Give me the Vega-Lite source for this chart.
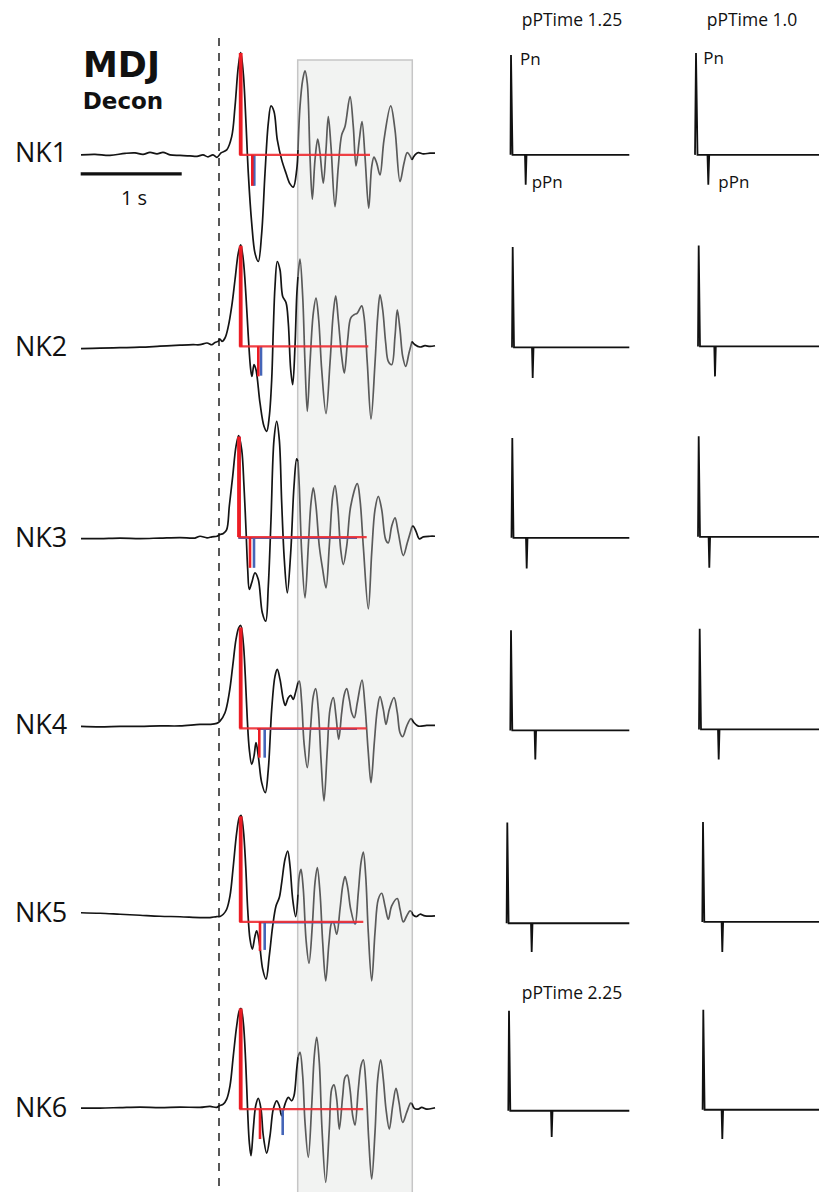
{
"$schema": "https://vega.github.io/schema/vega-lite/v6.json",
"width": 819, "height": 1193,
"autosize": {"type": "fit", "contains": "padding"},
"padding": 0,
"background": "white",
"config": {"view": {"stroke": null}},
"datasets": {
"frame": [
{"kind":"box","t":0.787,"t2":1.933,"v":-0.6,"v2":-12.0},
{"kind":"onset","t":0,"t2":0,"v":-0.38,"v2":-11.93},
{"kind":"scale","t":-1.383,"t2":-0.373,"v":-1.74,"v2":-1.74}
],
"wave": [
{"trace":"NK1","seg":"pre","t":-1.38,"v":-1.55},{"trace":"NK1","seg":"pre","t":-1.24,"v":-1.545},{"trace":"NK1","seg":"pre","t":-1.09,"v":-1.555},{"trace":"NK1","seg":"pre","t":-0.94,"v":-1.535},{"trace":"NK1","seg":"pre","t":-0.84,"v":-1.53},{"trace":"NK1","seg":"pre","t":-0.76,"v":-1.545},{"trace":"NK1","seg":"pre","t":-0.69,"v":-1.525},{"trace":"NK1","seg":"pre","t":-0.62,"v":-1.54},{"trace":"NK1","seg":"pre","t":-0.56,"v":-1.525},{"trace":"NK1","seg":"pre","t":-0.49,"v":-1.55},{"trace":"NK1","seg":"pre","t":-0.39,"v":-1.555},{"trace":"NK1","seg":"pre","t":-0.29,"v":-1.56},{"trace":"NK1","seg":"pre","t":-0.22,"v":-1.565},{"trace":"NK1","seg":"pre","t":-0.16,"v":-1.55},{"trace":"NK1","seg":"pre","t":-0.11,"v":-1.57},{"trace":"NK1","seg":"pre","t":-0.06,"v":-1.55},{"trace":"NK1","seg":"pre","t":-0.02,"v":-1.575},{"trace":"NK1","seg":"pre","t":0.02,"v":-1.53},{"trace":"NK1","seg":"pre","t":0.077,"v":-1.5},{"trace":"NK1","seg":"pre","t":0.127,"v":-1.367},{"trace":"NK1","seg":"pre","t":0.16,"v":-1.067},{"trace":"NK1","seg":"pre","t":0.193,"v":-0.667},{"trace":"NK1","seg":"pre","t":0.217,"v":-0.527},{"trace":"NK1","seg":"pre","t":0.243,"v":-0.733},{"trace":"NK1","seg":"pre","t":0.27,"v":-1.233},{"trace":"NK1","seg":"pre","t":0.293,"v":-1.733},{"trace":"NK1","seg":"pre","t":0.327,"v":-2.233},{"trace":"NK1","seg":"pre","t":0.36,"v":-2.533},{"trace":"NK1","seg":"pre","t":0.393,"v":-2.617},{"trace":"NK1","seg":"pre","t":0.427,"v":-2.333},{"trace":"NK1","seg":"pre","t":0.46,"v":-1.733},{"trace":"NK1","seg":"pre","t":0.493,"v":-1.233},{"trace":"NK1","seg":"pre","t":0.52,"v":-1.06},{"trace":"NK1","seg":"pre","t":0.55,"v":-1.117},{"trace":"NK1","seg":"pre","t":0.583,"v":-1.4},{"trace":"NK1","seg":"pre","t":0.627,"v":-1.6},{"trace":"NK1","seg":"pre","t":0.67,"v":-1.733},{"trace":"NK1","seg":"pre","t":0.71,"v":-1.84},{"trace":"NK1","seg":"pre","t":0.743,"v":-1.873},{"trace":"NK1","seg":"pre","t":0.777,"v":-1.7},{"trace":"NK1","seg":"pre","t":0.79,"v":-1.5},
{"trace":"NK1","seg":"box","t":0.79,"v":-1.5},{"trace":"NK1","seg":"box","t":0.81,"v":-1.067},{"trace":"NK1","seg":"box","t":0.837,"v":-0.8},{"trace":"NK1","seg":"box","t":0.86,"v":-0.71},{"trace":"NK1","seg":"box","t":0.883,"v":-0.833},{"trace":"NK1","seg":"box","t":0.91,"v":-1.567},{"trace":"NK1","seg":"box","t":0.933,"v":-1.993},{"trace":"NK1","seg":"box","t":0.96,"v":-1.6},{"trace":"NK1","seg":"box","t":0.987,"v":-1.393},{"trace":"NK1","seg":"box","t":1.01,"v":-1.533},{"trace":"NK1","seg":"box","t":1.043,"v":-1.833},{"trace":"NK1","seg":"box","t":1.07,"v":-1.5},{"trace":"NK1","seg":"box","t":1.093,"v":-1.167},{"trace":"NK1","seg":"box","t":1.12,"v":-1.467},{"trace":"NK1","seg":"box","t":1.16,"v":-2.067},{"trace":"NK1","seg":"box","t":1.193,"v":-1.667},{"trace":"NK1","seg":"box","t":1.227,"v":-1.35},{"trace":"NK1","seg":"box","t":1.26,"v":-1.267},{"trace":"NK1","seg":"box","t":1.31,"v":-0.967},{"trace":"NK1","seg":"box","t":1.343,"v":-1.267},{"trace":"NK1","seg":"box","t":1.37,"v":-1.66},{"trace":"NK1","seg":"box","t":1.403,"v":-1.4},{"trace":"NK1","seg":"box","t":1.43,"v":-1.217},{"trace":"NK1","seg":"box","t":1.46,"v":-1.567},{"trace":"NK1","seg":"box","t":1.497,"v":-2.083},{"trace":"NK1","seg":"box","t":1.527,"v":-1.667},{"trace":"NK1","seg":"box","t":1.55,"v":-1.573},{"trace":"NK1","seg":"box","t":1.577,"v":-1.633},{"trace":"NK1","seg":"box","t":1.61,"v":-1.75},{"trace":"NK1","seg":"box","t":1.65,"v":-1.4},{"trace":"NK1","seg":"box","t":1.717,"v":-1.06},{"trace":"NK1","seg":"box","t":1.76,"v":-1.3},{"trace":"NK1","seg":"box","t":1.81,"v":-1.817},{"trace":"NK1","seg":"box","t":1.85,"v":-1.633},{"trace":"NK1","seg":"box","t":1.883,"v":-1.527},{"trace":"NK1","seg":"box","t":1.93,"v":-1.6},
{"trace":"NK1","seg":"post","t":1.93,"v":-1.6},{"trace":"NK1","seg":"post","t":1.96,"v":-1.55},{"trace":"NK1","seg":"post","t":1.993,"v":-1.527},{"trace":"NK1","seg":"post","t":2.043,"v":-1.54},{"trace":"NK1","seg":"post","t":2.11,"v":-1.533},{"trace":"NK1","seg":"post","t":2.16,"v":-1.533},

{"trace":"NK2","seg":"pre","t":-1.38,"v":-3.49},{"trace":"NK2","seg":"pre","t":-1.19,"v":-3.485},{"trace":"NK2","seg":"pre","t":-0.99,"v":-3.48},{"trace":"NK2","seg":"pre","t":-0.79,"v":-3.475},{"trace":"NK2","seg":"pre","t":-0.59,"v":-3.465},{"trace":"NK2","seg":"pre","t":-0.39,"v":-3.455},{"trace":"NK2","seg":"pre","t":-0.26,"v":-3.45},{"trace":"NK2","seg":"pre","t":-0.19,"v":-3.45},{"trace":"NK2","seg":"pre","t":-0.12,"v":-3.433},{"trace":"NK2","seg":"pre","t":-0.07,"v":-3.45},{"trace":"NK2","seg":"pre","t":-0.04,"v":-3.427},{"trace":"NK2","seg":"pre","t":-0.01,"v":-3.417},{"trace":"NK2","seg":"pre","t":0.01,"v":-3.393},{"trace":"NK2","seg":"pre","t":0.03,"v":-3.417},{"trace":"NK2","seg":"pre","t":0.06,"v":-3.383},{"trace":"NK2","seg":"pre","t":0.093,"v":-3.267},{"trace":"NK2","seg":"pre","t":0.127,"v":-3.067},{"trace":"NK2","seg":"pre","t":0.16,"v":-2.8},{"trace":"NK2","seg":"pre","t":0.193,"v":-2.533},{"trace":"NK2","seg":"pre","t":0.217,"v":-2.45},{"trace":"NK2","seg":"pre","t":0.243,"v":-2.6},{"trace":"NK2","seg":"pre","t":0.27,"v":-2.967},{"trace":"NK2","seg":"pre","t":0.293,"v":-3.367},{"trace":"NK2","seg":"pre","t":0.317,"v":-3.7},{"trace":"NK2","seg":"pre","t":0.33,"v":-3.767},{"trace":"NK2","seg":"pre","t":0.35,"v":-3.65},{"trace":"NK2","seg":"pre","t":0.37,"v":-3.7},{"trace":"NK2","seg":"pre","t":0.41,"v":-4.033},{"trace":"NK2","seg":"pre","t":0.45,"v":-4.267},{"trace":"NK2","seg":"pre","t":0.477,"v":-4.317},{"trace":"NK2","seg":"pre","t":0.503,"v":-4.167},{"trace":"NK2","seg":"pre","t":0.527,"v":-3.8},{"trace":"NK2","seg":"pre","t":0.543,"v":-3.3},{"trace":"NK2","seg":"pre","t":0.56,"v":-2.867},{"trace":"NK2","seg":"pre","t":0.583,"v":-2.617},{"trace":"NK2","seg":"pre","t":0.61,"v":-2.7},{"trace":"NK2","seg":"pre","t":0.637,"v":-2.967},{"trace":"NK2","seg":"pre","t":0.67,"v":-3.027},{"trace":"NK2","seg":"pre","t":0.693,"v":-3.233},{"trace":"NK2","seg":"pre","t":0.717,"v":-3.7},{"trace":"NK2","seg":"pre","t":0.737,"v":-3.85},{"trace":"NK2","seg":"pre","t":0.76,"v":-3.467},{"trace":"NK2","seg":"pre","t":0.777,"v":-2.967},{"trace":"NK2","seg":"pre","t":0.79,"v":-2.767},
{"trace":"NK2","seg":"box","t":0.79,"v":-2.767},{"trace":"NK2","seg":"box","t":0.81,"v":-2.593},{"trace":"NK2","seg":"box","t":0.837,"v":-2.967},{"trace":"NK2","seg":"box","t":0.86,"v":-3.633},{"trace":"NK2","seg":"box","t":0.883,"v":-4.117},{"trace":"NK2","seg":"box","t":0.91,"v":-3.633},{"trace":"NK2","seg":"box","t":0.943,"v":-3.133},{"trace":"NK2","seg":"box","t":0.97,"v":-2.983},{"trace":"NK2","seg":"box","t":0.997,"v":-3.2},{"trace":"NK2","seg":"box","t":1.027,"v":-3.7},{"trace":"NK2","seg":"box","t":1.07,"v":-4.14},{"trace":"NK2","seg":"box","t":1.11,"v":-3.633},{"trace":"NK2","seg":"box","t":1.143,"v":-3.133},{"trace":"NK2","seg":"box","t":1.167,"v":-2.96},{"trace":"NK2","seg":"box","t":1.193,"v":-3.2},{"trace":"NK2","seg":"box","t":1.227,"v":-3.567},{"trace":"NK2","seg":"box","t":1.253,"v":-3.733},{"trace":"NK2","seg":"box","t":1.287,"v":-3.4},{"trace":"NK2","seg":"box","t":1.317,"v":-3.183},{"trace":"NK2","seg":"box","t":1.35,"v":-3.15},{"trace":"NK2","seg":"box","t":1.383,"v":-3.133},{"trace":"NK2","seg":"box","t":1.427,"v":-3.06},{"trace":"NK2","seg":"box","t":1.45,"v":-3.167},{"trace":"NK2","seg":"box","t":1.483,"v":-3.633},{"trace":"NK2","seg":"box","t":1.52,"v":-4.193},{"trace":"NK2","seg":"box","t":1.56,"v":-3.633},{"trace":"NK2","seg":"box","t":1.587,"v":-3.167},{"trace":"NK2","seg":"box","t":1.61,"v":-2.95},{"trace":"NK2","seg":"box","t":1.637,"v":-3.1},{"trace":"NK2","seg":"box","t":1.667,"v":-3.433},{"trace":"NK2","seg":"box","t":1.693,"v":-3.617},{"trace":"NK2","seg":"box","t":1.727,"v":-3.65},{"trace":"NK2","seg":"box","t":1.76,"v":-3.367},{"trace":"NK2","seg":"box","t":1.783,"v":-3.1},{"trace":"NK2","seg":"box","t":1.81,"v":-3.3},{"trace":"NK2","seg":"box","t":1.837,"v":-3.567},{"trace":"NK2","seg":"box","t":1.867,"v":-3.667},{"trace":"NK2","seg":"box","t":1.9,"v":-3.533},{"trace":"NK2","seg":"box","t":1.93,"v":-3.417},
{"trace":"NK2","seg":"post","t":1.93,"v":-3.417},{"trace":"NK2","seg":"post","t":1.96,"v":-3.45},{"trace":"NK2","seg":"post","t":2.01,"v":-3.473},{"trace":"NK2","seg":"post","t":2.06,"v":-3.46},{"trace":"NK2","seg":"post","t":2.11,"v":-3.467},{"trace":"NK2","seg":"post","t":2.16,"v":-3.46},

{"trace":"NK3","seg":"pre","t":-1.38,"v":-5.39},{"trace":"NK3","seg":"pre","t":-1.19,"v":-5.39},{"trace":"NK3","seg":"pre","t":-0.99,"v":-5.385},{"trace":"NK3","seg":"pre","t":-0.79,"v":-5.39},{"trace":"NK3","seg":"pre","t":-0.59,"v":-5.385},{"trace":"NK3","seg":"pre","t":-0.39,"v":-5.38},{"trace":"NK3","seg":"pre","t":-0.24,"v":-5.385},{"trace":"NK3","seg":"pre","t":-0.19,"v":-5.367},{"trace":"NK3","seg":"pre","t":-0.12,"v":-5.383},{"trace":"NK3","seg":"pre","t":-0.07,"v":-5.373},{"trace":"NK3","seg":"pre","t":-0.02,"v":-5.367},{"trace":"NK3","seg":"pre","t":0.01,"v":-5.35},{"trace":"NK3","seg":"pre","t":0.043,"v":-5.34},{"trace":"NK3","seg":"pre","t":0.077,"v":-5.3},{"trace":"NK3","seg":"pre","t":0.103,"v":-5.067},{"trace":"NK3","seg":"pre","t":0.137,"v":-4.767},{"trace":"NK3","seg":"pre","t":0.17,"v":-4.467},{"trace":"NK3","seg":"pre","t":0.197,"v":-4.36},{"trace":"NK3","seg":"pre","t":0.227,"v":-4.5},{"trace":"NK3","seg":"pre","t":0.25,"v":-4.867},{"trace":"NK3","seg":"pre","t":0.27,"v":-5.3},{"trace":"NK3","seg":"pre","t":0.287,"v":-5.7},{"trace":"NK3","seg":"pre","t":0.303,"v":-5.9},{"trace":"NK3","seg":"pre","t":0.327,"v":-5.833},{"trace":"NK3","seg":"pre","t":0.36,"v":-5.733},{"trace":"NK3","seg":"pre","t":0.393,"v":-5.8},{"trace":"NK3","seg":"pre","t":0.433,"v":-6.133},{"trace":"NK3","seg":"pre","t":0.467,"v":-6.217},{"trace":"NK3","seg":"pre","t":0.493,"v":-5.867},{"trace":"NK3","seg":"pre","t":0.52,"v":-5.2},{"trace":"NK3","seg":"pre","t":0.55,"v":-4.4},{"trace":"NK3","seg":"pre","t":0.577,"v":-4.217},{"trace":"NK3","seg":"pre","t":0.603,"v":-4.4},{"trace":"NK3","seg":"pre","t":0.627,"v":-5.033},{"trace":"NK3","seg":"pre","t":0.653,"v":-5.6},{"trace":"NK3","seg":"pre","t":0.683,"v":-5.933},{"trace":"NK3","seg":"pre","t":0.717,"v":-5.533},{"trace":"NK3","seg":"pre","t":0.75,"v":-4.867},{"trace":"NK3","seg":"pre","t":0.777,"v":-4.593},{"trace":"NK3","seg":"pre","t":0.79,"v":-4.62},
{"trace":"NK3","seg":"box","t":0.79,"v":-4.62},{"trace":"NK3","seg":"box","t":0.803,"v":-4.867},{"trace":"NK3","seg":"box","t":0.827,"v":-5.533},{"trace":"NK3","seg":"box","t":0.86,"v":-5.983},{"trace":"NK3","seg":"box","t":0.893,"v":-5.467},{"trace":"NK3","seg":"box","t":0.92,"v":-5.033},{"trace":"NK3","seg":"box","t":0.943,"v":-4.883},{"trace":"NK3","seg":"box","t":0.97,"v":-5.067},{"trace":"NK3","seg":"box","t":1.003,"v":-5.467},{"trace":"NK3","seg":"box","t":1.037,"v":-5.7},{"trace":"NK3","seg":"box","t":1.07,"v":-5.883},{"trace":"NK3","seg":"box","t":1.103,"v":-5.467},{"trace":"NK3","seg":"box","t":1.137,"v":-4.967},{"trace":"NK3","seg":"box","t":1.16,"v":-4.86},{"trace":"NK3","seg":"box","t":1.187,"v":-5.067},{"trace":"NK3","seg":"box","t":1.217,"v":-5.5},{"trace":"NK3","seg":"box","t":1.243,"v":-5.65},{"trace":"NK3","seg":"box","t":1.277,"v":-5.467},{"trace":"NK3","seg":"box","t":1.317,"v":-5.067},{"trace":"NK3","seg":"box","t":1.383,"v":-4.84},{"trace":"NK3","seg":"box","t":1.41,"v":-5.0},{"trace":"NK3","seg":"box","t":1.443,"v":-5.467},{"trace":"NK3","seg":"box","t":1.493,"v":-6.093},{"trace":"NK3","seg":"box","t":1.527,"v":-5.533},{"trace":"NK3","seg":"box","t":1.56,"v":-5.1},{"trace":"NK3","seg":"box","t":1.593,"v":-4.967},{"trace":"NK3","seg":"box","t":1.627,"v":-5.1},{"trace":"NK3","seg":"box","t":1.667,"v":-5.4},{"trace":"NK3","seg":"box","t":1.693,"v":-5.433},{"trace":"NK3","seg":"box","t":1.727,"v":-5.267},{"trace":"NK3","seg":"box","t":1.76,"v":-5.183},{"trace":"NK3","seg":"box","t":1.793,"v":-5.333},{"trace":"NK3","seg":"box","t":1.843,"v":-5.56},{"trace":"NK3","seg":"box","t":1.883,"v":-5.433},{"trace":"NK3","seg":"box","t":1.93,"v":-5.27},
{"trace":"NK3","seg":"post","t":1.93,"v":-5.27},{"trace":"NK3","seg":"post","t":1.943,"v":-5.267},{"trace":"NK3","seg":"post","t":1.97,"v":-5.317},{"trace":"NK3","seg":"post","t":2.003,"v":-5.393},{"trace":"NK3","seg":"post","t":2.043,"v":-5.373},{"trace":"NK3","seg":"post","t":2.11,"v":-5.367},{"trace":"NK3","seg":"post","t":2.16,"v":-5.367},

{"trace":"NK4","seg":"pre","t":-1.38,"v":-7.27},{"trace":"NK4","seg":"pre","t":-1.19,"v":-7.275},{"trace":"NK4","seg":"pre","t":-0.99,"v":-7.27},{"trace":"NK4","seg":"pre","t":-0.79,"v":-7.27},{"trace":"NK4","seg":"pre","t":-0.59,"v":-7.265},{"trace":"NK4","seg":"pre","t":-0.39,"v":-7.265},{"trace":"NK4","seg":"pre","t":-0.19,"v":-7.25},{"trace":"NK4","seg":"pre","t":-0.09,"v":-7.25},{"trace":"NK4","seg":"pre","t":-0.023,"v":-7.24},{"trace":"NK4","seg":"pre","t":0.01,"v":-7.217},{"trace":"NK4","seg":"pre","t":0.06,"v":-7.133},{"trace":"NK4","seg":"pre","t":0.103,"v":-6.933},{"trace":"NK4","seg":"pre","t":0.137,"v":-6.667},{"trace":"NK4","seg":"pre","t":0.17,"v":-6.4},{"trace":"NK4","seg":"pre","t":0.197,"v":-6.283},{"trace":"NK4","seg":"pre","t":0.217,"v":-6.26},{"trace":"NK4","seg":"pre","t":0.243,"v":-6.433},{"trace":"NK4","seg":"pre","t":0.263,"v":-6.767},{"trace":"NK4","seg":"pre","t":0.283,"v":-7.2},{"trace":"NK4","seg":"pre","t":0.303,"v":-7.5},{"trace":"NK4","seg":"pre","t":0.327,"v":-7.65},{"trace":"NK4","seg":"pre","t":0.35,"v":-7.567},{"trace":"NK4","seg":"pre","t":0.37,"v":-7.433},{"trace":"NK4","seg":"pre","t":0.393,"v":-7.567},{"trace":"NK4","seg":"pre","t":0.427,"v":-7.833},{"trace":"NK4","seg":"pre","t":0.463,"v":-7.933},{"trace":"NK4","seg":"pre","t":0.493,"v":-7.7},{"trace":"NK4","seg":"pre","t":0.527,"v":-7.1},{"trace":"NK4","seg":"pre","t":0.56,"v":-6.767},{"trace":"NK4","seg":"pre","t":0.583,"v":-6.7},{"trace":"NK4","seg":"pre","t":0.61,"v":-6.8},{"trace":"NK4","seg":"pre","t":0.643,"v":-7.0},{"trace":"NK4","seg":"pre","t":0.663,"v":-7.06},{"trace":"NK4","seg":"pre","t":0.693,"v":-6.983},{"trace":"NK4","seg":"pre","t":0.717,"v":-6.96},{"trace":"NK4","seg":"pre","t":0.743,"v":-7.0},{"trace":"NK4","seg":"pre","t":0.76,"v":-6.95},{"trace":"NK4","seg":"pre","t":0.79,"v":-6.83},
{"trace":"NK4","seg":"box","t":0.79,"v":-6.83},{"trace":"NK4","seg":"box","t":0.803,"v":-6.817},{"trace":"NK4","seg":"box","t":0.827,"v":-7.033},{"trace":"NK4","seg":"box","t":0.85,"v":-7.433},{"trace":"NK4","seg":"box","t":0.883,"v":-7.683},{"trace":"NK4","seg":"box","t":0.917,"v":-7.267},{"trace":"NK4","seg":"box","t":0.943,"v":-6.967},{"trace":"NK4","seg":"box","t":0.967,"v":-6.893},{"trace":"NK4","seg":"box","t":0.993,"v":-7.1},{"trace":"NK4","seg":"box","t":1.02,"v":-7.6},{"trace":"NK4","seg":"box","t":1.05,"v":-8.017},{"trace":"NK4","seg":"box","t":1.083,"v":-7.5},{"trace":"NK4","seg":"box","t":1.11,"v":-7.1},{"trace":"NK4","seg":"box","t":1.143,"v":-6.983},{"trace":"NK4","seg":"box","t":1.17,"v":-7.167},{"trace":"NK4","seg":"box","t":1.197,"v":-7.4},{"trace":"NK4","seg":"box","t":1.227,"v":-7.133},{"trace":"NK4","seg":"box","t":1.253,"v":-6.95},{"trace":"NK4","seg":"box","t":1.277,"v":-6.893},{"trace":"NK4","seg":"box","t":1.303,"v":-7.0},{"trace":"NK4","seg":"box","t":1.327,"v":-7.133},{"trace":"NK4","seg":"box","t":1.353,"v":-7.183},{"trace":"NK4","seg":"box","t":1.383,"v":-7.033},{"trace":"NK4","seg":"box","t":1.43,"v":-6.807},{"trace":"NK4","seg":"box","t":1.46,"v":-7.067},{"trace":"NK4","seg":"box","t":1.493,"v":-7.533},{"trace":"NK4","seg":"box","t":1.52,"v":-7.833},{"trace":"NK4","seg":"box","t":1.553,"v":-7.433},{"trace":"NK4","seg":"box","t":1.583,"v":-7.1},{"trace":"NK4","seg":"box","t":1.61,"v":-6.973},{"trace":"NK4","seg":"box","t":1.643,"v":-7.1},{"trace":"NK4","seg":"box","t":1.67,"v":-7.25},{"trace":"NK4","seg":"box","t":1.703,"v":-7.1},{"trace":"NK4","seg":"box","t":1.75,"v":-6.983},{"trace":"NK4","seg":"box","t":1.783,"v":-7.133},{"trace":"NK4","seg":"box","t":1.81,"v":-7.333},{"trace":"NK4","seg":"box","t":1.837,"v":-7.373},{"trace":"NK4","seg":"box","t":1.877,"v":-7.267},{"trace":"NK4","seg":"box","t":1.917,"v":-7.193},{"trace":"NK4","seg":"box","t":1.93,"v":-7.2},
{"trace":"NK4","seg":"post","t":1.93,"v":-7.2},{"trace":"NK4","seg":"post","t":1.95,"v":-7.233},{"trace":"NK4","seg":"post","t":1.993,"v":-7.267},{"trace":"NK4","seg":"post","t":2.077,"v":-7.26},{"trace":"NK4","seg":"post","t":2.16,"v":-7.26},

{"trace":"NK5","seg":"pre","t":-1.38,"v":-9.135},{"trace":"NK5","seg":"pre","t":-1.19,"v":-9.14},{"trace":"NK5","seg":"pre","t":-0.99,"v":-9.15},{"trace":"NK5","seg":"pre","t":-0.79,"v":-9.16},{"trace":"NK5","seg":"pre","t":-0.59,"v":-9.17},{"trace":"NK5","seg":"pre","t":-0.39,"v":-9.175},{"trace":"NK5","seg":"pre","t":-0.19,"v":-9.183},{"trace":"NK5","seg":"pre","t":-0.09,"v":-9.183},{"trace":"NK5","seg":"pre","t":-0.023,"v":-9.173},{"trace":"NK5","seg":"pre","t":0.01,"v":-9.173},{"trace":"NK5","seg":"pre","t":0.043,"v":-9.15},{"trace":"NK5","seg":"pre","t":0.077,"v":-9.1},{"trace":"NK5","seg":"pre","t":0.11,"v":-8.967},{"trace":"NK5","seg":"pre","t":0.143,"v":-8.667},{"trace":"NK5","seg":"pre","t":0.177,"v":-8.333},{"trace":"NK5","seg":"pre","t":0.203,"v":-8.183},{"trace":"NK5","seg":"pre","t":0.22,"v":-8.16},{"trace":"NK5","seg":"pre","t":0.243,"v":-8.3},{"trace":"NK5","seg":"pre","t":0.267,"v":-8.667},{"trace":"NK5","seg":"pre","t":0.287,"v":-9.1},{"trace":"NK5","seg":"pre","t":0.31,"v":-9.4},{"trace":"NK5","seg":"pre","t":0.333,"v":-9.5},{"trace":"NK5","seg":"pre","t":0.36,"v":-9.367},{"trace":"NK5","seg":"pre","t":0.377,"v":-9.317},{"trace":"NK5","seg":"pre","t":0.403,"v":-9.433},{"trace":"NK5","seg":"pre","t":0.437,"v":-9.7},{"trace":"NK5","seg":"pre","t":0.47,"v":-9.8},{"trace":"NK5","seg":"pre","t":0.503,"v":-9.567},{"trace":"NK5","seg":"pre","t":0.537,"v":-9.267},{"trace":"NK5","seg":"pre","t":0.57,"v":-9.067},{"trace":"NK5","seg":"pre","t":0.603,"v":-8.983},{"trace":"NK5","seg":"pre","t":0.627,"v":-8.833},{"trace":"NK5","seg":"pre","t":0.66,"v":-8.6},{"trace":"NK5","seg":"pre","t":0.687,"v":-8.517},{"trace":"NK5","seg":"pre","t":0.71,"v":-8.667},{"trace":"NK5","seg":"pre","t":0.737,"v":-9.0},{"trace":"NK5","seg":"pre","t":0.767,"v":-9.173},{"trace":"NK5","seg":"pre","t":0.79,"v":-8.95},
{"trace":"NK5","seg":"box","t":0.79,"v":-8.95},{"trace":"NK5","seg":"box","t":0.803,"v":-8.767},{"trace":"NK5","seg":"box","t":0.82,"v":-8.7},{"trace":"NK5","seg":"box","t":0.843,"v":-8.9},{"trace":"NK5","seg":"box","t":0.87,"v":-9.4},{"trace":"NK5","seg":"box","t":0.9,"v":-9.64},{"trace":"NK5","seg":"box","t":0.933,"v":-9.267},{"trace":"NK5","seg":"box","t":0.96,"v":-8.833},{"trace":"NK5","seg":"box","t":0.983,"v":-8.683},{"trace":"NK5","seg":"box","t":1.01,"v":-8.933},{"trace":"NK5","seg":"box","t":1.037,"v":-9.433},{"trace":"NK5","seg":"box","t":1.067,"v":-9.817},{"trace":"NK5","seg":"box","t":1.1,"v":-9.433},{"trace":"NK5","seg":"box","t":1.127,"v":-9.233},{"trace":"NK5","seg":"box","t":1.143,"v":-9.227},{"trace":"NK5","seg":"box","t":1.177,"v":-9.35},{"trace":"NK5","seg":"box","t":1.21,"v":-9.1},{"trace":"NK5","seg":"box","t":1.237,"v":-8.867},{"trace":"NK5","seg":"box","t":1.26,"v":-8.773},{"trace":"NK5","seg":"box","t":1.287,"v":-8.883},{"trace":"NK5","seg":"box","t":1.317,"v":-9.1},{"trace":"NK5","seg":"box","t":1.36,"v":-9.25},{"trace":"NK5","seg":"box","t":1.393,"v":-8.933},{"trace":"NK5","seg":"box","t":1.42,"v":-8.633},{"trace":"NK5","seg":"box","t":1.443,"v":-8.527},{"trace":"NK5","seg":"box","t":1.467,"v":-8.767},{"trace":"NK5","seg":"box","t":1.493,"v":-9.333},{"trace":"NK5","seg":"box","t":1.527,"v":-9.817},{"trace":"NK5","seg":"box","t":1.56,"v":-9.333},{"trace":"NK5","seg":"box","t":1.593,"v":-9.0},{"trace":"NK5","seg":"box","t":1.627,"v":-8.94},{"trace":"NK5","seg":"box","t":1.66,"v":-9.067},{"trace":"NK5","seg":"box","t":1.693,"v":-9.2},{"trace":"NK5","seg":"box","t":1.727,"v":-9.067},{"trace":"NK5","seg":"box","t":1.783,"v":-8.993},{"trace":"NK5","seg":"box","t":1.81,"v":-9.1},{"trace":"NK5","seg":"box","t":1.843,"v":-9.227},{"trace":"NK5","seg":"box","t":1.877,"v":-9.167},{"trace":"NK5","seg":"box","t":1.91,"v":-9.117},{"trace":"NK5","seg":"box","t":1.93,"v":-9.13},
{"trace":"NK5","seg":"post","t":1.93,"v":-9.13},{"trace":"NK5","seg":"post","t":1.943,"v":-9.16},{"trace":"NK5","seg":"post","t":1.977,"v":-9.173},{"trace":"NK5","seg":"post","t":2.01,"v":-9.15},{"trace":"NK5","seg":"post","t":2.06,"v":-9.167},{"trace":"NK5","seg":"post","t":2.16,"v":-9.167},

{"trace":"NK6","seg":"pre","t":-1.38,"v":-11.09},{"trace":"NK6","seg":"pre","t":-1.19,"v":-11.09},{"trace":"NK6","seg":"pre","t":-0.99,"v":-11.085},{"trace":"NK6","seg":"pre","t":-0.79,"v":-11.08},{"trace":"NK6","seg":"pre","t":-0.59,"v":-11.085},{"trace":"NK6","seg":"pre","t":-0.39,"v":-11.08},{"trace":"NK6","seg":"pre","t":-0.19,"v":-11.083},{"trace":"NK6","seg":"pre","t":-0.09,"v":-11.073},{"trace":"NK6","seg":"pre","t":-0.023,"v":-11.083},{"trace":"NK6","seg":"pre","t":0.003,"v":-11.067},{"trace":"NK6","seg":"pre","t":0.043,"v":-11.05},{"trace":"NK6","seg":"pre","t":0.077,"v":-11.0},{"trace":"NK6","seg":"pre","t":0.11,"v":-10.867},{"trace":"NK6","seg":"pre","t":0.143,"v":-10.567},{"trace":"NK6","seg":"pre","t":0.177,"v":-10.267},{"trace":"NK6","seg":"pre","t":0.203,"v":-10.117},{"trace":"NK6","seg":"pre","t":0.22,"v":-10.093},{"trace":"NK6","seg":"pre","t":0.243,"v":-10.233},{"trace":"NK6","seg":"pre","t":0.267,"v":-10.633},{"trace":"NK6","seg":"pre","t":0.287,"v":-11.133},{"trace":"NK6","seg":"pre","t":0.303,"v":-11.433},{"trace":"NK6","seg":"pre","t":0.32,"v":-11.567},{"trace":"NK6","seg":"pre","t":0.343,"v":-11.3},{"trace":"NK6","seg":"pre","t":0.367,"v":-11.067},{"trace":"NK6","seg":"pre","t":0.393,"v":-10.993},{"trace":"NK6","seg":"pre","t":0.42,"v":-11.1},{"trace":"NK6","seg":"pre","t":0.443,"v":-11.367},{"trace":"NK6","seg":"pre","t":0.477,"v":-11.54},{"trace":"NK6","seg":"pre","t":0.51,"v":-11.367},{"trace":"NK6","seg":"pre","t":0.543,"v":-11.1},{"trace":"NK6","seg":"pre","t":0.577,"v":-11.017},{"trace":"NK6","seg":"pre","t":0.603,"v":-11.067},{"trace":"NK6","seg":"pre","t":0.627,"v":-11.167},{"trace":"NK6","seg":"pre","t":0.66,"v":-11.05},{"trace":"NK6","seg":"pre","t":0.693,"v":-10.983},{"trace":"NK6","seg":"pre","t":0.727,"v":-11.017},{"trace":"NK6","seg":"pre","t":0.75,"v":-10.967},{"trace":"NK6","seg":"pre","t":0.777,"v":-10.7},{"trace":"NK6","seg":"pre","t":0.79,"v":-10.58},
{"trace":"NK6","seg":"box","t":0.79,"v":-10.58},{"trace":"NK6","seg":"box","t":0.81,"v":-10.533},{"trace":"NK6","seg":"box","t":0.837,"v":-10.767},{"trace":"NK6","seg":"box","t":0.86,"v":-11.233},{"trace":"NK6","seg":"box","t":0.893,"v":-11.583},{"trace":"NK6","seg":"box","t":0.927,"v":-11.067},{"trace":"NK6","seg":"box","t":0.953,"v":-10.567},{"trace":"NK6","seg":"box","t":0.977,"v":-10.383},{"trace":"NK6","seg":"box","t":1.003,"v":-10.633},{"trace":"NK6","seg":"box","t":1.03,"v":-11.3},{"trace":"NK6","seg":"box","t":1.067,"v":-11.833},{"trace":"NK6","seg":"box","t":1.103,"v":-11.3},{"trace":"NK6","seg":"box","t":1.127,"v":-10.9},{"trace":"NK6","seg":"box","t":1.15,"v":-10.857},{"trace":"NK6","seg":"box","t":1.177,"v":-11.0},{"trace":"NK6","seg":"box","t":1.203,"v":-11.3},{"trace":"NK6","seg":"box","t":1.237,"v":-10.967},{"trace":"NK6","seg":"box","t":1.26,"v":-10.783},{"trace":"NK6","seg":"box","t":1.283,"v":-10.76},{"trace":"NK6","seg":"box","t":1.31,"v":-10.9},{"trace":"NK6","seg":"box","t":1.337,"v":-11.167},{"trace":"NK6","seg":"box","t":1.36,"v":-11.26},{"trace":"NK6","seg":"box","t":1.393,"v":-10.9},{"trace":"NK6","seg":"box","t":1.42,"v":-10.667},{"trace":"NK6","seg":"box","t":1.443,"v":-10.607},{"trace":"NK6","seg":"box","t":1.47,"v":-10.867},{"trace":"NK6","seg":"box","t":1.497,"v":-11.4},{"trace":"NK6","seg":"box","t":1.527,"v":-11.8},{"trace":"NK6","seg":"box","t":1.56,"v":-11.333},{"trace":"NK6","seg":"box","t":1.587,"v":-10.8},{"trace":"NK6","seg":"box","t":1.617,"v":-10.607},{"trace":"NK6","seg":"box","t":1.643,"v":-10.8},{"trace":"NK6","seg":"box","t":1.67,"v":-11.1},{"trace":"NK6","seg":"box","t":1.703,"v":-11.3},{"trace":"NK6","seg":"box","t":1.737,"v":-11.067},{"trace":"NK6","seg":"box","t":1.77,"v":-10.893},{"trace":"NK6","seg":"box","t":1.8,"v":-11.033},{"trace":"NK6","seg":"box","t":1.837,"v":-11.233},{"trace":"NK6","seg":"box","t":1.877,"v":-11.133},{"trace":"NK6","seg":"box","t":1.917,"v":-11.04},{"trace":"NK6","seg":"box","t":1.93,"v":-11.045},
{"trace":"NK6","seg":"post","t":1.93,"v":-11.045},{"trace":"NK6","seg":"post","t":1.953,"v":-11.093},{"trace":"NK6","seg":"post","t":1.993,"v":-11.1},{"trace":"NK6","seg":"post","t":2.027,"v":-11.083},{"trace":"NK6","seg":"post","t":2.077,"v":-11.1},{"trace":"NK6","seg":"post","t":2.16,"v":-11.087}
],
"picks": [
{"trace":"NK3","kind":"bv","t":0.207,"t2":0.207,"v":-4.37,"v2":-5.375},
{"trace":"NK3","kind":"bh","t":0.193,"t2":1.38,"v":-5.385,"v2":-5.385},
{"trace":"NK4","kind":"bh","t":0.38,"t2":1.38,"v":-7.295,"v2":-7.295},
{"trace":"NK5","kind":"bh","t":0.40,"t2":1.38,"v":-9.232,"v2":-9.232},
{"trace":"NK1","kind":"bs","t":0.353,"t2":0.353,"v":-1.55,"v2":-1.86},
{"trace":"NK2","kind":"bs","t":0.42,"t2":0.42,"v":-3.467,"v2":-3.76},
{"trace":"NK3","kind":"bs","t":0.35,"t2":0.35,"v":-5.375,"v2":-5.683},
{"trace":"NK4","kind":"bs","t":0.457,"t2":0.457,"v":-7.29,"v2":-7.583},
{"trace":"NK5","kind":"bs","t":0.457,"t2":0.457,"v":-9.227,"v2":-9.507},
{"trace":"NK6","kind":"bs","t":0.637,"t2":0.637,"v":-11.1,"v2":-11.36},
{"trace":"NK1","kind":"rv","t":0.217,"t2":0.217,"v":-0.53,"v2":-1.55},
{"trace":"NK2","kind":"rv","t":0.217,"t2":0.217,"v":-2.46,"v2":-3.47},
{"trace":"NK3","kind":"rv","t":0.2,"t2":0.2,"v":-4.37,"v2":-5.375},
{"trace":"NK4","kind":"rv","t":0.217,"t2":0.217,"v":-6.28,"v2":-7.29},
{"trace":"NK5","kind":"rv","t":0.217,"t2":0.217,"v":-8.17,"v2":-9.227},
{"trace":"NK6","kind":"rv","t":0.217,"t2":0.217,"v":-10.093,"v2":-11.1},
{"trace":"NK1","kind":"rh","t":0.203,"t2":1.51,"v":-1.55,"v2":-1.55},
{"trace":"NK2","kind":"rh","t":0.203,"t2":1.493,"v":-3.467,"v2":-3.467},
{"trace":"NK3","kind":"rh","t":0.193,"t2":1.477,"v":-5.375,"v2":-5.375},
{"trace":"NK4","kind":"rh","t":0.203,"t2":1.477,"v":-7.29,"v2":-7.29},
{"trace":"NK5","kind":"rh","t":0.203,"t2":1.443,"v":-9.227,"v2":-9.227},
{"trace":"NK6","kind":"rh","t":0.203,"t2":1.443,"v":-11.1,"v2":-11.1},
{"trace":"NK1","kind":"rs","t":0.333,"t2":0.333,"v":-1.55,"v2":-1.86},
{"trace":"NK2","kind":"rs","t":0.393,"t2":0.393,"v":-3.467,"v2":-3.767},
{"trace":"NK3","kind":"rs","t":0.31,"t2":0.31,"v":-5.375,"v2":-5.683},
{"trace":"NK4","kind":"rs","t":0.403,"t2":0.403,"v":-7.29,"v2":-7.583},
{"trace":"NK5","kind":"rs","t":0.41,"t2":0.41,"v":-9.227,"v2":-9.517},
{"trace":"NK6","kind":"rs","t":0.41,"t2":0.41,"v":-11.1,"v2":-11.4}
],
"spikes": [
{"id":"NK1-a","t":2.915,"v":-1.55},{"id":"NK1-a","t":2.92,"v":-0.55},{"id":"NK1-a","t":2.935,"v":-1.55},{"id":"NK1-a","t":3.06,"v":-1.55},{"id":"NK1-a","t":3.067,"v":-1.85},{"id":"NK1-a","t":3.075,"v":-1.55},{"id":"NK1-a","t":4.103,"v":-1.55},
{"id":"NK1-b","t":4.76,"v":-1.55},{"id":"NK1-b","t":4.77,"v":-0.53},{"id":"NK1-b","t":4.785,"v":-1.55},{"id":"NK1-b","t":4.885,"v":-1.55},{"id":"NK1-b","t":4.893,"v":-1.85},{"id":"NK1-b","t":4.902,"v":-1.55},{"id":"NK1-b","t":6.0,"v":-1.55},
{"id":"NK2-a","t":2.93,"v":-3.477},{"id":"NK2-a","t":2.937,"v":-2.473},{"id":"NK2-a","t":2.95,"v":-3.477},{"id":"NK2-a","t":3.13,"v":-3.477},{"id":"NK2-a","t":3.137,"v":-3.783},{"id":"NK2-a","t":3.145,"v":-3.477},{"id":"NK2-a","t":4.103,"v":-3.477},
{"id":"NK2-b","t":4.79,"v":-3.467},{"id":"NK2-b","t":4.797,"v":-2.457},{"id":"NK2-b","t":4.81,"v":-3.467},{"id":"NK2-b","t":4.953,"v":-3.467},{"id":"NK2-b","t":4.96,"v":-3.767},{"id":"NK2-b","t":4.968,"v":-3.467},{"id":"NK2-b","t":6.0,"v":-3.467},
{"id":"NK3-a","t":2.925,"v":-5.383},{"id":"NK3-a","t":2.933,"v":-4.383},{"id":"NK3-a","t":2.945,"v":-5.383},{"id":"NK3-a","t":3.07,"v":-5.383},{"id":"NK3-a","t":3.077,"v":-5.69},{"id":"NK3-a","t":3.085,"v":-5.383},{"id":"NK3-a","t":4.103,"v":-5.383},
{"id":"NK3-b","t":4.79,"v":-5.373},{"id":"NK3-b","t":4.797,"v":-4.367},{"id":"NK3-b","t":4.81,"v":-5.373},{"id":"NK3-b","t":4.896,"v":-5.373},{"id":"NK3-b","t":4.903,"v":-5.683},{"id":"NK3-b","t":4.911,"v":-5.373},{"id":"NK3-b","t":6.0,"v":-5.373},
{"id":"NK4-a","t":2.913,"v":-7.31},{"id":"NK4-a","t":2.92,"v":-6.307},{"id":"NK4-a","t":2.933,"v":-7.31},{"id":"NK4-a","t":3.156,"v":-7.31},{"id":"NK4-a","t":3.163,"v":-7.6},{"id":"NK4-a","t":3.171,"v":-7.31},{"id":"NK4-a","t":4.103,"v":-7.31},
{"id":"NK4-b","t":4.8,"v":-7.3},{"id":"NK4-b","t":4.807,"v":-6.293},{"id":"NK4-b","t":4.82,"v":-7.3},{"id":"NK4-b","t":4.99,"v":-7.3},{"id":"NK4-b","t":4.997,"v":-7.6},{"id":"NK4-b","t":5.005,"v":-7.3},{"id":"NK4-b","t":6.0,"v":-7.3},
{"id":"NK5-a","t":2.876,"v":-9.24},{"id":"NK5-a","t":2.883,"v":-8.233},{"id":"NK5-a","t":2.896,"v":-9.24},{"id":"NK5-a","t":3.12,"v":-9.24},{"id":"NK5-a","t":3.127,"v":-9.527},{"id":"NK5-a","t":3.135,"v":-9.24},{"id":"NK5-a","t":4.103,"v":-9.24},
{"id":"NK5-b","t":4.833,"v":-9.227},{"id":"NK5-b","t":4.84,"v":-8.227},{"id":"NK5-b","t":4.853,"v":-9.227},{"id":"NK5-b","t":5.026,"v":-9.227},{"id":"NK5-b","t":5.033,"v":-9.527},{"id":"NK5-b","t":5.041,"v":-9.227},{"id":"NK5-b","t":6.0,"v":-9.227},
{"id":"NK6-a","t":2.893,"v":-11.117},{"id":"NK6-a","t":2.9,"v":-10.117},{"id":"NK6-a","t":2.913,"v":-11.117},{"id":"NK6-a","t":3.32,"v":-11.117},{"id":"NK6-a","t":3.327,"v":-11.38},{"id":"NK6-a","t":3.335,"v":-11.117},{"id":"NK6-a","t":4.103,"v":-11.117},
{"id":"NK6-b","t":4.836,"v":-11.107},{"id":"NK6-b","t":4.843,"v":-10.107},{"id":"NK6-b","t":4.856,"v":-11.107},{"id":"NK6-b","t":5.026,"v":-11.107},{"id":"NK6-b","t":5.033,"v":-11.4},{"id":"NK6-b","t":5.041,"v":-11.107},{"id":"NK6-b","t":6.0,"v":-11.107}
],
"labels": [
{"role":"station","txt":"NK1","t":-2.04,"v":-1.54},
{"role":"station","txt":"NK2","t":-2.04,"v":-3.48},
{"role":"station","txt":"NK3","t":-2.04,"v":-5.39},
{"role":"station","txt":"NK4","t":-2.04,"v":-7.27},
{"role":"station","txt":"NK5","t":-2.04,"v":-9.15},
{"role":"station","txt":"NK6","t":-2.04,"v":-11.1},
{"role":"title","txt":"MDJ","t":-1.36,"v":-0.767},
{"role":"subtitle","txt":"Decon","t":-1.363,"v":-1.095},
{"role":"scale","txt":"1 s","t":-0.85,"v":-2.05},
{"role":"head","txt":"pPTime 1.25","t":3.027,"v":-0.26},
{"role":"head","txt":"pPTime 1.0","t":4.877,"v":-0.26},
{"role":"head","txt":"pPTime 2.25","t":3.027,"v":-10.0},
{"role":"phase","txt":"Pn","t":3.01,"v":-0.65},
{"role":"phase","txt":"Pn","t":4.843,"v":-0.64},
{"role":"phase","txt":"pPn","t":3.127,"v":-1.883},
{"role":"phase","txt":"pPn","t":4.993,"v":-1.883}
]
},
"encoding": {
"x": {"field": "t", "type": "quantitative", "scale": {"domain": [-2.19, 6.0], "nice": false, "zero": false}, "axis": null},
"y": {"field": "v", "type": "quantitative", "scale": {"domain": [-11.93, 0], "nice": false, "zero": false}, "axis": null}
},
"layer": [
{"data": {"name": "frame"}, "transform": [{"filter": "datum.kind === 'box'"}],
 "mark": {"type": "rect", "fill": "#f2f3f2", "stroke": "#c6c6c6", "strokeWidth": 1.5, "clip": true},
 "encoding": {"x2": {"field": "t2"}, "y2": {"field": "v2"}}},
{"data": {"name": "frame"}, "transform": [{"filter": "datum.kind === 'onset'"}],
 "mark": {"type": "rule", "color": "#111111", "strokeWidth": 1.4, "strokeDash": [8, 7]},
 "encoding": {"x2": {"field": "t2"}, "y2": {"field": "v2"}}},
{"data": {"name": "frame"}, "transform": [{"filter": "datum.kind === 'scale'"}],
 "mark": {"type": "rule", "color": "#111111", "strokeWidth": 3.2},
 "encoding": {"x2": {"field": "t2"}, "y2": {"field": "v2"}}},
{"data": {"name": "wave"},
 "mark": {"type": "line", "interpolate": "catmull-rom", "strokeWidth": 1.7},
 "encoding": {
   "color": {"field": "seg", "type": "nominal", "scale": {"domain": ["pre", "box", "post"], "range": ["#141414", "#5a5a5a", "#141414"]}, "legend": null},
   "detail": {"field": "trace"}}},
{"data": {"name": "picks"}, "transform": [{"filter": "datum.kind === 'bh' || datum.kind === 'bv'"}],
 "mark": {"type": "rule", "color": "#4a64b4", "strokeWidth": 2},
 "encoding": {"x2": {"field": "t2"}, "y2": {"field": "v2"}}},
{"data": {"name": "picks"}, "transform": [{"filter": "datum.kind === 'bs'"}],
 "mark": {"type": "rule", "color": "#4565b8", "strokeWidth": 2.6},
 "encoding": {"x2": {"field": "t2"}, "y2": {"field": "v2"}}},
{"data": {"name": "picks"}, "transform": [{"filter": "datum.kind === 'rh'"}],
 "mark": {"type": "rule", "color": "#ee2b31", "strokeWidth": 2.2, "opacity": 0.9},
 "encoding": {"x2": {"field": "t2"}, "y2": {"field": "v2"}}},
{"data": {"name": "picks"}, "transform": [{"filter": "datum.kind === 'rv'"}],
 "mark": {"type": "rule", "color": "#ec1c24", "strokeWidth": 3.8},
 "encoding": {"x2": {"field": "t2"}, "y2": {"field": "v2"}}},
{"data": {"name": "picks"}, "transform": [{"filter": "datum.kind === 'rs'"}],
 "mark": {"type": "rule", "color": "#ec1c24", "strokeWidth": 2.6},
 "encoding": {"x2": {"field": "t2"}, "y2": {"field": "v2"}}},
{"data": {"name": "spikes"},
 "mark": {"type": "line", "color": "#111111", "strokeWidth": 1.8, "clip": true},
 "encoding": {"detail": {"field": "id"}}},
{"data": {"name": "labels"}, "transform": [{"filter": "datum.role === 'station'"}],
 "mark": {"type": "text", "font": "Open Sans", "fontSize": 27, "align": "left", "baseline": "middle", "color": "#111111"},
 "encoding": {"text": {"field": "txt"}}},
{"data": {"name": "labels"}, "transform": [{"filter": "datum.role === 'title'"}],
 "mark": {"type": "text", "font": "DejaVu Sans", "fontWeight": "bold", "fontSize": 35, "align": "left", "baseline": "alphabetic", "color": "#111111"},
 "encoding": {"text": {"field": "txt"}}},
{"data": {"name": "labels"}, "transform": [{"filter": "datum.role === 'subtitle'"}],
 "mark": {"type": "text", "font": "DejaVu Sans", "fontWeight": "bold", "fontSize": 23, "align": "left", "baseline": "alphabetic", "color": "#111111"},
 "encoding": {"text": {"field": "txt"}}},
{"data": {"name": "labels"}, "transform": [{"filter": "datum.role === 'scale'"}],
 "mark": {"type": "text", "font": "Open Sans", "fontSize": 20, "align": "center", "baseline": "alphabetic", "color": "#111111"},
 "encoding": {"text": {"field": "txt"}}},
{"data": {"name": "labels"}, "transform": [{"filter": "datum.role === 'head'"}],
 "mark": {"type": "text", "font": "Open Sans", "fontSize": 17.5, "align": "left", "baseline": "alphabetic", "color": "#111111"},
 "encoding": {"text": {"field": "txt"}}},
{"data": {"name": "labels"}, "transform": [{"filter": "datum.role === 'phase'"}],
 "mark": {"type": "text", "font": "Open Sans", "fontSize": 17, "align": "left", "baseline": "alphabetic", "color": "#111111"},
 "encoding": {"text": {"field": "txt"}}}
]
}
